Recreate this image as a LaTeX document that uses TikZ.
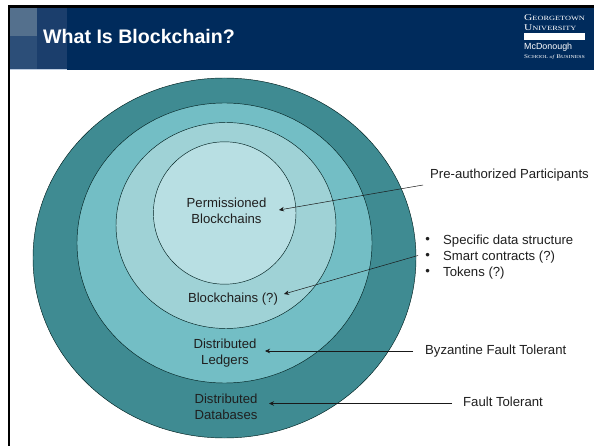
\documentclass[tikz,border=0pt]{standalone}
\usepackage{fontspec}
\setmainfont{Liberation Sans}
\newfontfamily\logoserif{Liberation Serif}
\usetikzlibrary{arrows.meta}
\newcommand{\logocaps}[2]{\scalebox{1.3}[1]{{\fontsize{8.8pt}{9pt}\selectfont #1}{\fontsize{6.4pt}{9pt}\selectfont #2}}}
\tikzset{
  ring/.style={draw=black!75!teal,line width=0.45pt},
  lbl/.style={font=\fontsize{13.15pt}{16pt}\selectfont,text=black!88,align=center,inner sep=0pt},
  arr/.style={draw=black!90,line width=0.5pt,-{Stealth[length=5pt,width=4.5pt]}},
  logo/.style={anchor=west,inner sep=0pt,text=white},
}
\begin{document}
\begin{tikzpicture}[x=1pt,y=-1pt]
\useasboundingbox (0,0) rectangle (594,446);
\fill[white] (0,0) rectangle (594,446);
\fill[black] (8,5) rectangle (594,8);
\fill[black] (8,5) rectangle (10,446);
\fill[fill={rgb,255:red,0;green,43;blue,92}] (10,8) rectangle (594,70);
\fill[fill={rgb,255:red,27;green,62;blue,108}] (37,8) rectangle (67,70);
\fill[fill={rgb,255:red,84;green,112;blue,141}] (10,8) rectangle (37,36);
\fill[fill={rgb,255:red,44;green,78;blue,120}] (10,36) rectangle (37,70);
\fill[fill={rgb,255:red,190;green,205;blue,225}] (10,69.3) rectangle (67,70.3);
\node[logo,font=\bfseries\fontsize{19.6pt}{22pt}\selectfont] (title) at (43,36.5) {What Is Blockchain?};
\node[logo,font=\logoserif] (gu1) at (524,18) {\logocaps{G}{EORGETOWN}};
\node[logo,font=\logoserif] (gu2) at (524,27.5) {\logocaps{U}{NIVERSITY}};
\fill[white] (524,33.5) rectangle (585,40.5);
\node[logo,font=\fontsize{8.9pt}{9pt}\selectfont] (mc) at (524,47.5) {McDonough};
\node[logo,font=\logoserif\fontsize{4.6pt}{5pt}\selectfont] (sb) at (524,57) {\scalebox{1.27}[1]{{\fontsize{5.6pt}{5pt}\selectfont S}CHOOL \textit{of} {\fontsize{5.6pt}{5pt}\selectfont B}USINESS}};
\draw[ring,fill={rgb,255:red,63;green,139;blue,146}] (224.5,258) ellipse (191.5 and 180);
\draw[ring,fill={rgb,255:red,115;green,190;blue,197}] (224.5,243) ellipse (147.5 and 140);
\draw[ring,fill={rgb,255:red,159;green,210;blue,214}] (226,225.5) ellipse (110 and 103);
\draw[ring,fill={rgb,255:red,184;green,223;blue,227}] (224.7,213) ellipse (71.3 and 71.2);
\node[lbl] (pb) at (226.5,211) {Permissioned\\Blockchains};
\node[lbl] (bc) at (233,299) {Blockchains (?)};
\node[lbl] (dl) at (225,353) {Distributed\\Ledgers};
\node[lbl] (dd) at (226,406.5) {Distributed\\Databases};
\node[lbl,anchor=west] (pa) at (430,175) {Pre-authorized Participants};
\node[lbl,anchor=west] (bf) at (425,351) {Byzantine Fault Tolerant};
\node[lbl,anchor=west] (ft) at (463,402) {Fault Tolerant};
\node[lbl,anchor=west] (sd) at (443,240.7) {Specific data structure};
\node[lbl,anchor=west] (sc) at (443,256.7) {Smart contracts (?)};
\node[lbl,anchor=west] (tk) at (443,272.7) {Tokens (?)};
\node[lbl] (b1) at (427.7,240.7) {•};
\node[lbl] (b2) at (427.7,256.7) {•};
\node[lbl] (b3) at (427.7,272.7) {•};
\coordinate (a1) at (279,210);
\coordinate (a2) at (284,294);
\coordinate (a3) at (265,351);
\coordinate (a4) at (269,403.5);
\coordinate (s1) at (423,185);
\coordinate (s2) at (418,255.5);
\coordinate (s3) at (413,351);
\coordinate (s4) at (452,403.5);
\draw[arr] (s1) -- (a1);
\draw[arr] (s2) -- (a2);
\draw[arr] (s3) -- (a3);
\draw[arr] (s4) -- (a4);
\end{tikzpicture}
\end{document}
